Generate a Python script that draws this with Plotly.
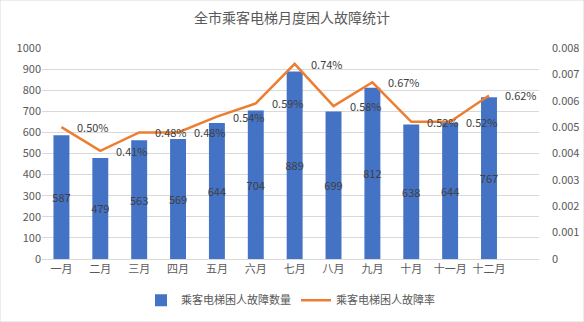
import plotly.graph_objects as go

months = ["一月", "二月", "三月", "四月", "五月", "六月",
          "七月", "八月", "九月", "十月", "十一月", "十二月"]
counts = [587, 479, 563, 569, 644, 704, 889, 699, 812, 638, 644, 767]
rates = [0.0050, 0.0041, 0.0048, 0.0048, 0.0054, 0.0059,
         0.0074, 0.0058, 0.0067, 0.0052, 0.0052, 0.0062]
left_ticks = list(range(0, 1001, 100))
right_ticks = [0, 0.001, 0.002, 0.003, 0.004, 0.005, 0.006, 0.007, 0.008]

FONT = "Noto Sans CJK SC, Liberation Sans, sans-serif"
GRAY = "#595959"

fig = go.Figure()
fig.add_trace(go.Bar(
    x=months, y=counts, name="乘客电梯困人故障数量",
    marker=dict(color="#4472C4", line=dict(width=0)),
    width=0.41,
    text=[str(v) for v in counts], textposition="inside", textangle=0,
    insidetextanchor="middle", constraintext="none",
    textfont=dict(color="#404040", size=11, family=FONT),
))
fig.add_trace(go.Scatter(
    x=months, y=rates, name="乘客电梯困人故障率", yaxis="y2",
    mode="lines",
    line=dict(color="#ED7D31", width=2.5),
))

# percentage labels to the right of each point on the rate line
annotations = [
    dict(x=m, y=r, xref="x", yref="y2", text=f"{r*100:.2f}%",
         showarrow=False, xanchor="left", yanchor="middle", xshift=14,
         font=dict(color="#404040", size=11, family=FONT))
    for m, r in zip(months, rates)
]

fig.update_layout(
    width=584, height=322,
    margin=dict(l=42, r=45, t=48, b=63, autoexpand=False),
    paper_bgcolor="white", plot_bgcolor="white",
    font=dict(family=FONT, color=GRAY, size=11),
    title=dict(text="全市乘客电梯月度困人故障统计", x=0.5, xanchor="center",
               y=0.945, yanchor="middle",
               font=dict(size=14, color=GRAY, family=FONT)),
    xaxis=dict(showgrid=False, showline=True, linecolor="#D9D9D9",
               ticks="", tickfont=dict(size=11, color=GRAY)),
    yaxis=dict(range=[0, 1000], tickvals=left_ticks, showgrid=True,
               gridcolor="#D9D9D9", gridwidth=1, zeroline=False,
               tickfont=dict(size=11, color=GRAY), ticks=""),
    yaxis2=dict(range=[0, 0.008], tickvals=right_ticks,
                ticktext=[("%g" % v) for v in right_ticks],
                overlaying="y", side="right", showgrid=False,
                zeroline=False, tickfont=dict(size=11, color=GRAY), ticks="",
                ticklabelstandoff=12),
    legend=dict(orientation="h", x=0.5, xanchor="center", y=-0.195,
                yanchor="middle", font=dict(size=11, color=GRAY),
                itemwidth=30, tracegroupgap=0),
    bargap=0.59,
    annotations=annotations,
)
# light border around the whole figure
fig.add_shape(type="rect", xref="paper", yref="paper",
              x0=-42/497, x1=1+45/497, y0=-63/211, y1=1+48/211,
              line=dict(color="#D9D9D9", width=1))

fig.write_html("out.html")
